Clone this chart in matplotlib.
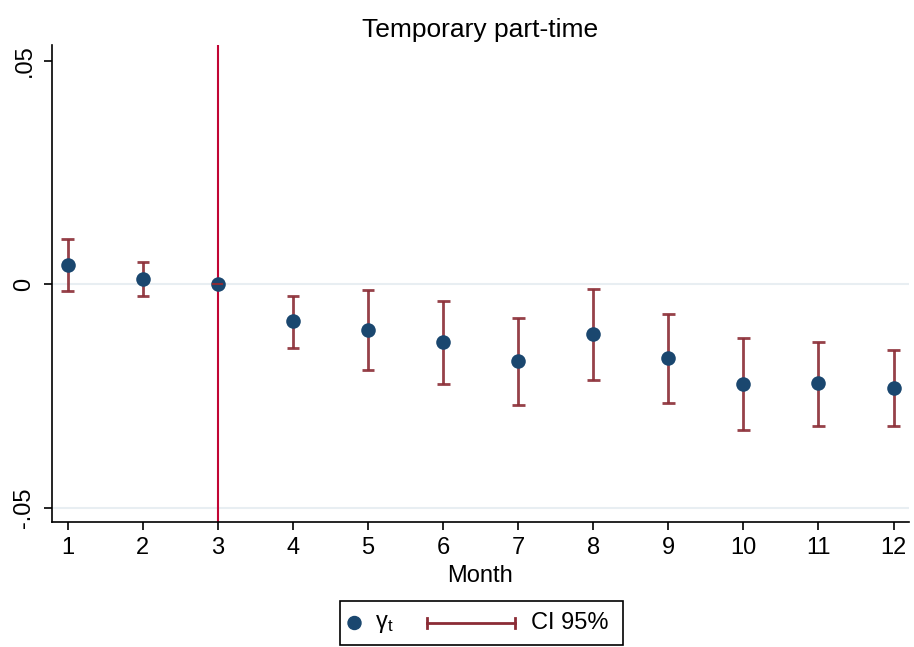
import matplotlib
matplotlib.use('Agg')
import matplotlib.pyplot as plt
from matplotlib.lines import Line2D
from matplotlib.patches import Circle
from matplotlib.offsetbox import AnchoredOffsetbox, HPacker, TextArea, DrawingArea

plt.rcParams['font.family'] = ['Liberation Sans', 'DejaVu Sans']
plt.rcParams['mathtext.fontset'] = 'custom'
plt.rcParams['mathtext.rm'] = 'Liberation Sans'
plt.rcParams['mathtext.it'] = 'Liberation Sans'

### data
months = [1, 2, 3, 4, 5, 6, 7, 8, 9, 10, 11, 12]
gamma = [0.0043, 0.0012, 0.0, -0.0083, -0.0101, -0.0130, -0.0172, -0.0112, -0.0165, -0.0224, -0.0221, -0.0231]
ci_hi = [0.0101, 0.0050, None, -0.0025, -0.0012, -0.0037, -0.0075, -0.0011, -0.0066, -0.0121, -0.0128, -0.0146]
ci_lo = [-0.0014, -0.0026, None, -0.0142, -0.0191, -0.0223, -0.0269, -0.0213, -0.0266, -0.0325, -0.0316, -0.0316]
ref_month = 3

navy = '#1a476f'
ci_col = '#8b2c35'
vline_col = '#c10534'
cap = 0.085

fig = plt.figure(figsize=(9.14, 6.47), dpi=100)
ax = fig.add_axes([0.057, 0.193, 0.937, 0.737])

# reference line + gridlines
ax.axhline(0, color='#e8eef2', lw=1.5, zorder=0)
ax.axhline(-0.05, color='#e8eef2', lw=1.5, zorder=0)
ax.axvline(ref_month, color=vline_col, lw=1.5, zorder=1)

# CIs
ex = [m for m, h in zip(months, ci_hi) if h is not None]
lo = [l for l in ci_lo if l is not None]
hi = [h for h in ci_hi if h is not None]
ax.vlines(ex, lo, hi, color=ci_col, lw=2, alpha=0.9, zorder=2)
ax.hlines(lo, [x - cap for x in ex], [x + cap for x in ex], color=ci_col, lw=2, alpha=0.9, zorder=2)
ax.hlines(hi, [x - cap for x in ex], [x + cap for x in ex], color=ci_col, lw=2, alpha=0.9, zorder=2)

ax.scatter(months, gamma, s=110, color=navy, zorder=3, linewidths=0)
# zero-width CI at the reference month
ax.plot([ref_month - 0.06, ref_month + 0.06], [0, 0], color=ci_col, lw=1.5, zorder=4)

ax.set_xlim(0.79, 12.2)
ax.set_ylim(-0.0532, 0.0535)
ax.set_xticks(months)
ax.set_yticks([-0.05, 0, 0.05])
ax.set_yticklabels(['-.05', '0', '.05'], rotation=90, va='center')
ax.tick_params(labelsize=17, length=6, width=1.2, colors='black')
ax.tick_params(axis='x', pad=5)
ax.tick_params(axis='y', pad=6)
ax.spines['top'].set_visible(False)
ax.spines['right'].set_visible(False)
ax.spines['left'].set_linewidth(1.2)
ax.spines['bottom'].set_linewidth(1.2)
ax.set_xlabel('Month', fontsize=17, labelpad=4)
ax.set_title('Temporary part-time', fontsize=19, pad=6)

# offsetbox sizes are in points; convert from pixels
px = 72 / fig.dpi


def spacer(w):
    return DrawingArea(w * px, 1, 0, 0)


# legend (built by hand so the two keys can have different widths)
h = 44 * px
dot = DrawingArea(13 * px, h, 0, 0)
dot.add_artist(Circle((6.5 * px, h / 2), 6.5 * px, color=navy))
kw = 90 * px
ci_key = DrawingArea(kw, h, 0, 0)
ci_key.add_artist(Line2D([px, kw - px], [h / 2, h / 2], color=ci_col, lw=2))
ci_key.add_artist(Line2D([px, px], [h / 2 - 5 * px, h / 2 + 5 * px], color=ci_col, lw=2))
ci_key.add_artist(Line2D([kw - px, kw - px], [h / 2 - 5 * px, h / 2 + 5 * px], color=ci_col, lw=2))
lab1 = TextArea('γ$_\\mathrm{t}$', textprops=dict(fontsize=17))
lab2 = TextArea('CI 95%', textprops=dict(fontsize=17))
box = HPacker(children=[spacer(8.5), dot, spacer(13.5), lab1, spacer(33), ci_key, spacer(15), lab2, spacer(14)],
              align='center', pad=0, sep=0)
leg = AnchoredOffsetbox(loc='upper center', child=box, pad=0, frameon=True,
                        bbox_to_anchor=(0.5263, 0.0711), bbox_transform=fig.transFigure, borderpad=0)
leg.patch.set_edgecolor('black')
leg.patch.set_linewidth(1.2)
leg.patch.set_boxstyle('square', pad=0)
fig.add_artist(leg)

plt.savefig('out.png', dpi=100)
